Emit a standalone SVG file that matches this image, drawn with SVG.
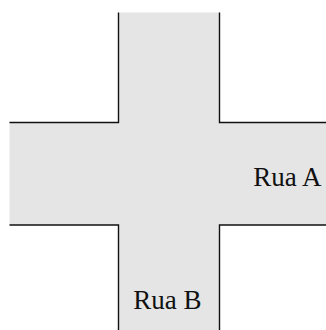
<svg xmlns="http://www.w3.org/2000/svg" width="326" height="330" viewBox="0 0 326 330">
<style>
.road{fill:#e5e5e5;stroke:none}
.edge{fill:none;stroke:#111;stroke-width:1.4}
.lbl{font-family:"Liberation Serif","Times New Roman",serif;font-size:27px;fill:#111}
</style>
<g id="roads">
<rect class="road" x="118.5" y="12.5" width="101" height="317.5"/>
<rect class="road" x="9.5" y="122.5" width="316.5" height="102.5"/>
</g>
<g id="edges">
<polyline class="edge" points="118.5,12.5 118.5,122.5 9.5,122.5"/>
<polyline class="edge" points="219.5,12.5 219.5,122.5 326,122.5"/>
<polyline class="edge" points="9.5,225 118.5,225 118.5,330"/>
<polyline class="edge" points="326,225 219.5,225 219.5,330"/>
</g>
<g id="labels">
<text class="lbl" x="321.5" y="186" text-anchor="end">Rua A</text>
<text class="lbl" x="167.5" y="309" text-anchor="middle">Rua B</text>
</g>
</svg>
